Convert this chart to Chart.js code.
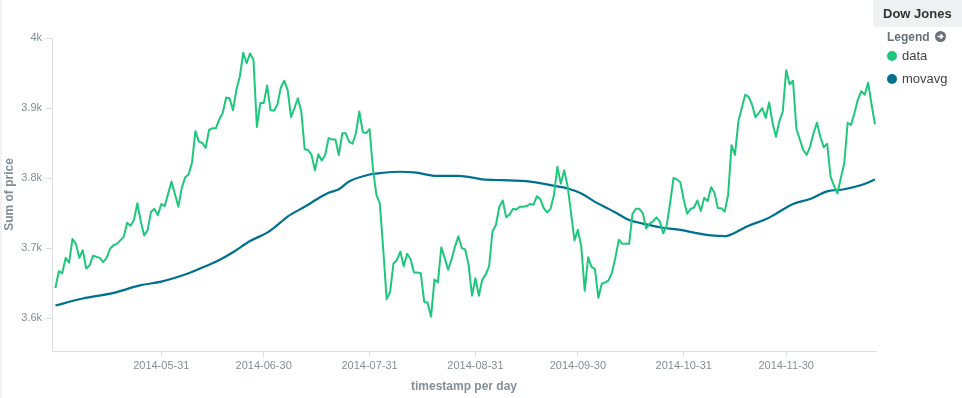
<!DOCTYPE html>
<html>
<head>
<meta charset="utf-8">
<title>Dow Jones</title>
<script src="https://cdn.jsdelivr.net/npm/chart.js@4.4.1/dist/chart.umd.min.js"></script>
<style>
  html, body { margin: 0; padding: 0; background: #fff; }
  body {
    width: 962px; height: 398px; position: relative; overflow: hidden;
    font-family: "Helvetica Neue", Helvetica, "Liberation Sans", Arial, sans-serif;
  }
  #chartBox { position: absolute; left: 0; top: 0; width: 962px; height: 398px; }
  .edge { position: absolute; left: 0; top: 0; width: 2px; height: 398px; background: #f1f2f4; }
  .legend { position: absolute; left: 873px; top: 0; width: 89px; }
  .legend-title {
    height: 27px; background: #eef0f2; border-bottom-left-radius: 4px;
    font-weight: bold; font-size: 13px; color: #333; line-height: 28px; padding-left: 10px;
  }
  .legend-head {
    margin: 2px 0 0 14px; font-weight: bold; font-size: 12px; color: #6a717d; line-height: 16px;
  }
  .legend-head svg { vertical-align: -1px; margin-left: 2px; }
  .legend-item { margin-left: 14px; height: 23px; font-size: 13px; color: #444; line-height: 22px; }
  .legend-item .dot {
    display: inline-block; width: 10px; height: 10px; border-radius: 50%;
    vertical-align: -1px; margin-right: 5px;
  }
</style>
</head>
<body>
<div class="edge"></div>
<div id="chartBox"><canvas id="priceChart" width="962" height="398"></canvas></div>
<div class="legend">
  <div class="legend-title">Dow Jones</div>
  <div class="legend-head">Legend <svg width="11" height="11" viewBox="0 0 11 11"><circle cx="5.5" cy="5.5" r="5.5" fill="#6a717d"/><path d="M2.6 5.5h5M5.4 3.2l2.3 2.3-2.3 2.3" stroke="#fff" stroke-width="1.5" fill="none"/></svg></div>
  <div class="legend-item"><span class="dot" id="dotData"></span>data</div>
  <div class="legend-item"><span class="dot" id="dotAvg"></span>movavg</div>
</div>
<script>
// daily price, first value is 2014-04-30, null = day not read
const startDate = "2014-04-30";
const dataPrices = [
  3643, 3667, 3664, 3686, 3679, 3713, 3706, 3686, 3697, 3671,
  3675, 3689, null, 3686, 3680, 3686, 3699, 3704, 3706, null,
  3716, 3736, 3732, 3740, 3764, 3738, 3718, 3726, 3752, 3756,
  3747, 3763, 3760, null, 3795, null, 3759, 3786, 3801, 3805,
  3822, 3867, 3852, 3850, 3843, 3869, 3871, 3871, 3884, 3893,
  3915, 3914, 3897, 3926, 3945, 3979, 3964, 3978, 3969, 3873,
  3907, 3907, 3932, 3897, 3896, 3905, 3929, 3939, 3926, 3887,
  3900, 3914, 3895, 3841, 3840, 3833, 3811, 3834, 3825, 3833,
  3857, 3855, 3855, 3833, 3864, 3864, 3852, 3849, 3864, 3895,
  3866, 3864, 3870, 3812, 3776, 3764, 3698, 3627, 3637, 3678,
  3683, 3695, 3674, 3692, 3684, 3665, 3665, 3664, 3623, 3622,
  3602, 3655, 3651, 3701, 3686, 3669, 3684, 3702, 3717, 3700,
  3698, 3676, 3632, 3657, 3632, 3655, 3662, 3674, 3724, 3733,
  3759, 3768, 3744, 3748, 3756, 3755, 3759, 3759, 3760, 3763,
  3762, 3774, 3770, 3757, 3751, 3756, 3776, 3816, 3792, 3811,
  3788, 3750, 3711, 3726, 3702, 3639, 3687, 3673, 3670, 3629,
  3649, 3651, 3654, 3665, 3687, 3712, 3706, null, 3706, 3749,
  3756, 3756, 3750, 3728, 3735, 3738, 3744, 3738, 3721, 3732,
  3764, 3800, 3798, 3794, 3769, 3749, 3756, 3758, 3768, 3753,
  3772, 3767, 3787, 3779, 3757, 3757, 3752, 3776, 3847, 3833,
  3881, 3900, 3919, 3916, 3905, 3887, 3893, 3900, 3886, 3908,
  3879, 3859, 3881, 3895, 3954, 3934, 3939, 3870, 3855, 3840,
  3833, 3845, 3864, 3879, 3859, 3844, 3849, 3802, 3789, 3778,
  3800, 3821, 3879, 3876, 3893, 3912, 3924, 3919, 3936, 3905,
  3877
];

// moving average, read at these days after startDate
const movavgDays = [0, 8, 17, 25, 31, 39, 42, 48, 52, 57, 62, 64, 66, 68, 73, 78, 80, 83, 86,
  92, 95, 101, 105, 112, 118, 123, 125, 131, 139, 147, 150, 154, 158, 162, 165,
  168, 172, 178, 183, 187, 192, 196, 199, 203, 208, 211, 216, 221, 226, 231, 236, 240];
const movavgValues = [3618, 3628, 3636, 3647, 3652, 3664, 3670, 3683, 3694, 3710, 3722, 3729, 3737, 3745, 3759, 3774, 3779, 3784, 3795,
  3805, 3807, 3809, 3808, 3803, 3803, 3800, 3798, 3797, 3795, 3788, 3785, 3778, 3766, 3756, 3748,
  3740, 3735, 3729, 3726, 3722, 3718, 3717, 3722, 3732, 3741, 3749, 3763, 3770, 3781, 3784, 3790, 3798];

const xTickLabels = ["2014-05-31", "2014-06-30", "2014-07-31", "2014-08-31", "2014-09-30", "2014-10-31", "2014-11-30"];
const yTickValues = [3600, 3700, 3800, 3900, 4000];
const yTickLabels = ["3.6k", "3.7k", "3.8k", "3.9k", "4k"];

const dataColor = "#1ec77c";
const avgColor = "#00708f";
const textColor = "#848e96";

function dayNumber(iso) {
  return Date.parse(iso) / 86400000;
}

const startDay = dayNumber(startDate);
const xTickDays = xTickLabels.map(dayNumber);

const dataPoints = dataPrices.map((v, i) => ({ x: startDay + i, y: v }));
const avgPoints = movavgDays.map((d, i) => ({ x: startDay + d, y: movavgValues[i] }));

document.getElementById("dotData").style.background = dataColor;
document.getElementById("dotAvg").style.background = avgColor;

const axisFont = { family: "'Helvetica Neue', Helvetica, 'Liberation Sans', Arial, sans-serif", size: 11 };
const titleFont = { family: axisFont.family, size: 12, weight: "bold" };

new Chart(document.getElementById("priceChart"), {
  type: "line",
  data: {
    datasets: [
      {
        label: "data",
        data: dataPoints,
        borderColor: dataColor,
        borderWidth: 2,
        pointRadius: 0,
        tension: 0,
        spanGaps: true,
        borderJoinStyle: "round"
      },
      {
        label: "movavg",
        data: avgPoints,
        borderColor: avgColor,
        borderWidth: 2.2,
        pointRadius: 0,
        cubicInterpolationMode: "monotone"
      }
    ]
  },
  options: {
    responsive: false,
    animation: false,
    events: [],
    layout: { padding: { left: 0, right: 86, top: 38, bottom: 0 } },
    plugins: { legend: { display: false }, tooltip: { enabled: false } },
    scales: {
      x: {
        type: "linear",
        min: startDay - 1,
        max: startDay + dataPrices.length - 1 + 0.3,
        afterBuildTicks: (scale) => {
          scale.ticks = xTickDays.map((v) => ({ value: v }));
        },
        afterFit: (scale) => { scale.height = 47; },
        ticks: {
          autoSkip: false,
          maxRotation: 0,
          padding: 2,
          color: textColor,
          font: axisFont,
          callback: (value) => xTickLabels[xTickDays.indexOf(value)] || ""
        },
        grid: { drawOnChartArea: false, drawTicks: true, tickLength: 6, color: "#dcdfe2" },
        border: { display: true, color: "#dcdfe2" },
        title: { display: true, text: "timestamp per day", color: textColor, font: titleFont, padding: { top: 3, bottom: 4 } }
      },
      y: {
        min: 3553,
        max: 4000,
        afterBuildTicks: (scale) => {
          scale.ticks = yTickValues.map((v) => ({ value: v }));
        },
        afterFit: (scale) => { scale.width = 52; },
        ticks: {
          padding: 4,
          color: textColor,
          font: axisFont,
          callback: (value) => yTickLabels[yTickValues.indexOf(value)] || ""
        },
        grid: { drawOnChartArea: false, drawTicks: true, tickLength: 6, color: "#dcdfe2" },
        border: { display: true, color: "#dcdfe2" },
        title: { display: true, text: "Sum of price", color: textColor, font: titleFont, padding: { top: 2, bottom: 0 } }
      }
    }
  }
});
</script>
</body>
</html>
